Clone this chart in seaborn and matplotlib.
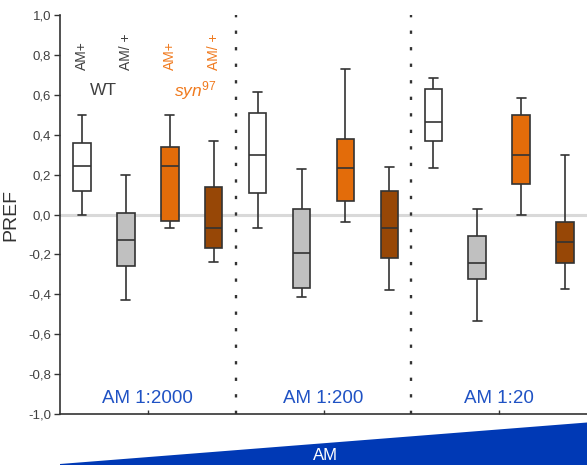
import numpy as np
import pandas as pd
import matplotlib
matplotlib.use("Agg")
import matplotlib.pyplot as plt
from matplotlib.patches import Polygon
import seaborn as sns

# Odour dilutions (groups along x) and genotype / condition (boxes within a group)
dilutions = ["AM 1:2000", "AM 1:200", "AM 1:20"]
genotypes = ["WT AM+", "WT AM/+", "syn97 AM+", "syn97 AM/+"]

# Five-number summaries per dilution: [whisker low, Q1, median, Q3, whisker high]
wt_am_plus = [
    [0.00, 0.118, 0.244, 0.356, 0.50],
    [-0.066, 0.11, 0.30, 0.51, 0.614],
    [0.234, 0.368, 0.466, 0.63, 0.686],
]
wt_am_slash = [
    [-0.43, -0.256, -0.13, 0.01, 0.20],
    [-0.414, -0.37, -0.194, 0.03, 0.23],
    [-0.536, -0.324, -0.242, -0.106, 0.03],
]
syn_am_plus = [
    [-0.068, -0.034, 0.244, 0.34, 0.50],
    [-0.038, 0.067, 0.234, 0.376, 0.73],
    [-0.002, 0.151, 0.298, 0.498, 0.583],
]
syn_am_slash = [
    [-0.236, -0.168, -0.07, 0.14, 0.37],
    [-0.38, -0.22, -0.066, 0.118, 0.24],
    [-0.374, -0.244, -0.136, -0.038, 0.30],
]

yticks = [-1.0, -0.8, -0.6, -0.4, -0.2, 0.0, 0.2, 0.4, 0.6, 0.8, 1.0]

box_colors = {
    "WT AM+": "#ffffff",
    "WT AM/+": "#c0c0c0",
    "syn97 AM+": "#e36c0a",
    "syn97 AM/+": "#974706",
}

rows = []
for geno, summaries in zip(genotypes, [wt_am_plus, wt_am_slash, syn_am_plus, syn_am_slash]):
    for dil, five in zip(dilutions, summaries):
        for v in five:
            rows.append({"dilution": dil, "genotype": geno, "PREF": v})
df = pd.DataFrame(rows)

sns.set_theme(style="white")
plt.rcParams["font.family"] = ["Liberation Sans", "DejaVu Sans"]
plt.rcParams["mathtext.fontset"] = "custom"
plt.rcParams["mathtext.rm"] = "Liberation Sans"
plt.rcParams["mathtext.it"] = "Liberation Sans:italic"

fig = plt.figure(figsize=(5.87, 4.65), dpi=100)
ax = fig.add_axes([60 / 587, 1 - 414 / 465, 527 / 587, (414 - 15) / 465])

ax.axhline(0, color="#d9d9d9", linewidth=2.2, zorder=0.5)

sns.boxplot(
    data=df, x="dilution", y="PREF", hue="genotype",
    order=dilutions, hue_order=genotypes, palette=box_colors,
    width=1.0, gap=0.6, whis=(0, 100), saturation=1,
    linecolor="#333333", linewidth=1.2, legend=False, ax=ax,
)

for xv in (0.5, 1.5):
    ax.axvline(xv, color="#333333", linewidth=1.7,
               linestyle=(0, (1.4, 5.6)), zorder=1)

ax.set_xlim(-0.5, 2.5)
ax.set_ylim(-1.0, 1.0)
ax.set_yticks(yticks)
ax.set_yticklabels([f"{v:.1f}".replace(".", ",").replace("-0,0", "0,0") for v in yticks])
ax.set_xticks([0, 1, 2])
ax.set_xticklabels([])
ax.set_xlabel("")
ax.set_ylabel("PREF", fontsize=14, color="#333333", labelpad=6)
ax.tick_params(axis="y", direction="out", length=4, width=1, color="#333333",
               labelsize=9.5, labelcolor="#404040", pad=2.5, left=True)
ax.tick_params(axis="x", direction="in", length=3, width=1, color="#333333",
               bottom=True)
for side in ("top", "right"):
    ax.spines[side].set_visible(False)
for side in ("left", "bottom"):
    ax.spines[side].set_color("#333333")
    ax.spines[side].set_linewidth(1.2)

# Dilution labels inside the plot
for i, dil in enumerate(dilutions):
    ax.text(i, -0.92, dil, ha="center", va="center", fontsize=13.5, color="#1f52c4")

# Condition labels above the first group
label_colors = ["#404040", "#404040", "#f07a1e", "#f07a1e"]
for off, txt, col in zip([-0.375, -0.125, 0.125, 0.375],
                         ["AM+", "AM/ +", "AM+", "AM/ +"], label_colors):
    ax.text(off, 0.722, txt, rotation=90, ha="center", va="bottom",
            fontsize=10, color=col)
ax.text(-0.25, 0.62, "WT", ha="center", va="center", fontsize=12.5, color="#404040")
ax.text(0.27, 0.62, r"$\it{syn}^{97}$", ha="center", va="center", fontsize=12.5,
        color="#f07a1e")

# Concentration wedge under the axis
W, H = 587, 465
wedge = Polygon([(60 / W, 1 - 464 / H), (1.0, 1 - 422.5 / H), (1.0, 0.0), (60 / W, 0.0)],
                closed=True, transform=fig.transFigure, facecolor="#0039b5",
                edgecolor="none")
fig.add_artist(wedge)
fig.text(325 / W, 1 - 455 / H, "AM", ha="center", va="center", fontsize=12,
         color="white")

fig.savefig("out.png", dpi=100)
